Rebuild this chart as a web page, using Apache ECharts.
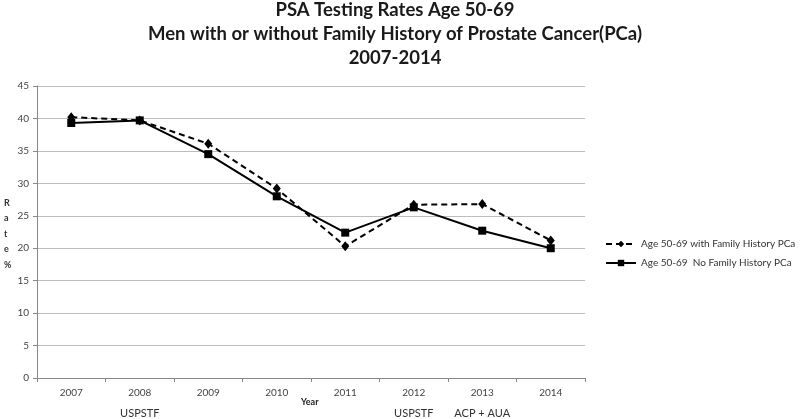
<!DOCTYPE html>
<html><head><meta charset="utf-8">
<script src="https://cdn.jsdelivr.net/npm/echarts@6/dist/echarts.min.js"></script>
<style>html,body{margin:0;padding:0;background:#fff}#c{width:800px;height:419px}</style>
</head><body><div id="c"></div>
<script>
const years = ['2007','2008','2009','2010','2011','2012','2013','2014'];
const notes = ['', 'USPSTF', '', '', '', 'USPSTF', 'ACP + AUA', ''];
const withFamily = [40.2, 39.7, 36.1, 29.2, 20.3, 26.7, 26.8, 21.2];
const noFamily = [39.3, 39.7, 34.5, 28.0, 22.4, 26.3, 22.7, 20.0];
const yTicks = {min: 0, max: 45, interval: 5};
const F = 'Lato, "Open Sans", sans-serif';
const chart = echarts.init(document.getElementById('c'), null, {renderer: 'canvas'});
chart.setOption({
  animation: false,
  backgroundColor: '#fff',
  title: {
    text: 'PSA Testing Rates Age 50-69\nMen with or without Family History of Prostate Cancer(PCa)\n2007-2014',
    left: 390, textAlign: 'center', top: -7,
    textStyle: {fontFamily: F, fontSize: 18.5, fontWeight: 'bold', color: '#1a1a1a', lineHeight: 24}
  },
  grid: {left: 37, right: 215, top: 86, bottom: 41},
  legend: {
    orient: 'vertical', left: 600, top: 234, itemGap: 9, itemWidth: 30, itemHeight: 8,
    textStyle: {fontFamily: F, fontSize: 10, color: '#333'},
    data: ['Age 50-69 with Family History PCa', 'Age 50-69  No Family History PCa']
  },
  xAxis: {
    type: 'category', data: years, boundaryGap: true,
    axisLine: {lineStyle: {color: '#888', width: 1}},
    axisTick: {show: true, length: 4, lineStyle: {color: '#888'}},
    axisLabel: {
      interval: 0, margin: 10, color: '#444', fontFamily: F, fontSize: 10,
      formatter: (v, i) => v + '\n{n|' + notes[i] + '}',
      rich: {n: {fontSize: 11, color: '#333', fontFamily: F, padding: [10, 0, 0, 0]}}
    }
  },
  yAxis: {
    type: 'value', min: yTicks.min, max: yTicks.max, interval: yTicks.interval,
    axisLine: {show: true, lineStyle: {color: '#888'}},
    axisTick: {show: true, length: 4, lineStyle: {color: '#888'}},
    axisLabel: {margin: 8, color: '#444', fontFamily: F, fontSize: 10},
    splitLine: {lineStyle: {color: '#bdbdbd', width: 1}}
  },
  graphic: [
    {type: 'text', left: 4, top: 195, style: {text: 'R\na\nt\ne\n%', fontFamily: F, fontSize: 9, fontWeight: 'bold', lineHeight: 15.5, fill: '#333', align: 'center'}},
    {type: 'text', left: 301, top: 398, style: {text: 'Year', fontFamily: F, fontSize: 9, fontWeight: 'bold', fill: '#222'}}
  ],
  series: [
    {
      name: 'Age 50-69 with Family History PCa', type: 'line', data: withFamily,
      symbol: 'diamond', symbolSize: [8, 10],
      itemStyle: {color: '#000'},
      lineStyle: {color: '#000', width: 2, type: [6, 4]}
    },
    {
      name: 'Age 50-69  No Family History PCa', type: 'line', data: noFamily,
      symbol: 'rect', symbolSize: 8,
      itemStyle: {color: '#000'},
      lineStyle: {color: '#000', width: 2, type: 'solid'}
    }
  ]
});
</script></body></html>
